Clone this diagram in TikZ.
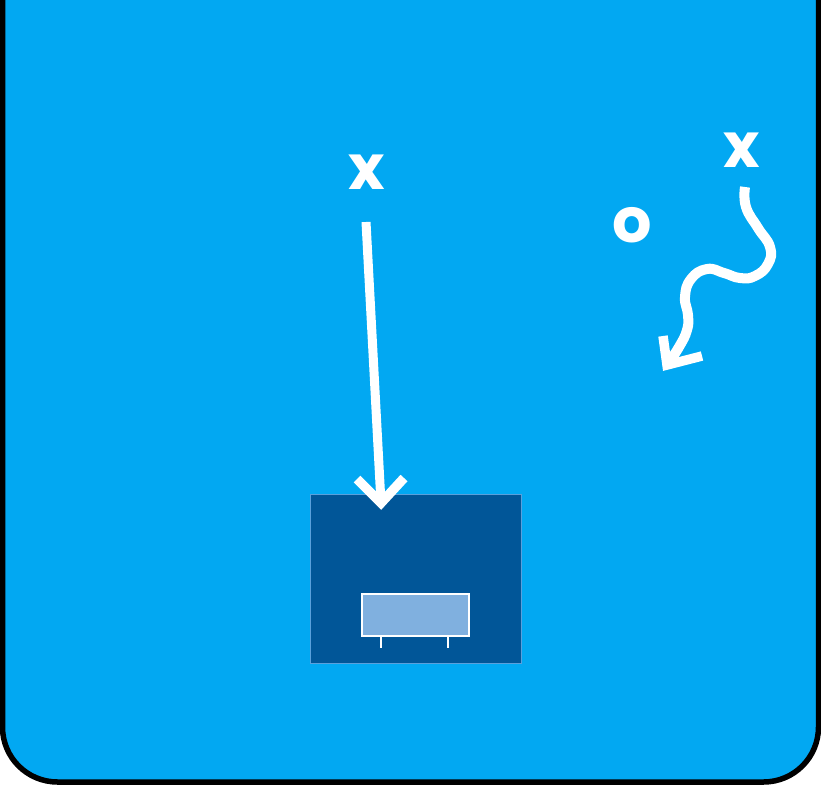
\documentclass[tikz,border=0pt]{standalone}
\usepackage{fontspec}
\newfontfamily\markfont{Poppins}[UprightFont=* Bold]
\definecolor{bgblue}{RGB}{2,168,242}
\definecolor{darkbox}{RGB}{1,86,152}
\definecolor{boxedge}{RGB}{90,160,220}
\definecolor{lightrect}{RGB}{128,176,223}
\begin{document}
\begin{tikzpicture}[x=1pt,y=-1pt,
  playmark/.style={text=white,font=\markfont\fontsize{62}{62}\selectfont,inner sep=0pt},
  whiteline/.style={draw=white,line width=10pt},
  chev/.style={draw=white,line width=9.5pt,line join=miter,line cap=butt}]
\useasboundingbox (0,0) rectangle (821,785);
% background card
\fill[bgblue] (2.5,-20) -- (2.5,727) .. controls (2.5,757.4) and (27.1,782) .. (57.5,782) -- (763.5,782) .. controls (793.9,782) and (818.5,757.4) .. (818.5,727) -- (818.5,-20) -- cycle;
\draw[black,line width=5.5pt] (2.5,-20) -- (2.5,727) .. controls (2.5,757.4) and (27.1,782) .. (57.5,782) -- (763.5,782) .. controls (793.9,782) and (818.5,757.4) .. (818.5,727) -- (818.5,-20);
% dark box
\node[draw=boxedge,line width=1pt,fill=darkbox,minimum width=211pt,minimum height=169pt,inner sep=0pt,anchor=north west] (box) at (309.5,493.5) {};
% inner rect with legs
\node[draw=white,line width=2pt,fill=lightrect,minimum width=107pt,minimum height=42pt,inner sep=0pt,anchor=north west] (bench) at (361,593) {};
\coordinate (legA) at (381,636);
\coordinate (legB) at (448,636);
\draw[white,line width=1.5pt] (legA) -- ++(0,12);
\draw[white,line width=1.5pt] (legB) -- ++(0,12);
% marks
\node[playmark] (x1) at (367,172) {x};
\node[playmark] (x2) at (742,150) {x};
\node[playmark] (o1) at (632,225) {o};
% straight arrow
\coordinate (s1) at (366,222);
\coordinate (t1) at (381,503);
\draw[whiteline,line width=9pt] (s1) -- (t1);
\draw[chev] (357,479) -- (t1) -- (404,478);
% wavy arrow
\coordinate (s2) at (745,187);
\coordinate (t2) at (667,365);
\draw[whiteline,line cap=butt] plot[smooth,tension=0.8] coordinates {(s2) (746,207) (758,228) (770,247) (768,264) (755,276) (740,278) (724,273) (707,269) (691,279) (685,297) (688,315) (687,330) (679,347) (t2)};
\draw[chev] (663,336) -- (t2) -- (702,356);
\end{tikzpicture}
\end{document}
